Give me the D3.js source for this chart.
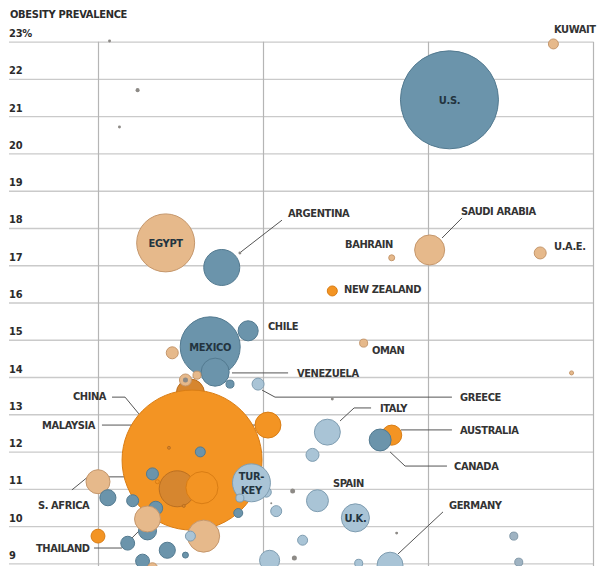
<!DOCTYPE html>
<html><head><meta charset="utf-8">
<script src="https://cdn.jsdelivr.net/npm/d3@7"></script>
<style>
body{margin:0;background:#fff}
svg{display:block}
text{font-family:"Liberation Sans Narrow","DejaVu Sans Condensed","Roboto Condensed",sans-serif}
</style>
</head><body>
<svg id="chart" width="600" height="566"></svg>
<script>
// ---- data (drawing order) ----
const names   = ["", "China", "U.S.", "Egypt", "Mexico", "", "Turkey", "Argentina", "Dark", "Thailand", "", "Saudi Arabia", "Venezuela", "U.K.", "Italy", "Malaysia", "Germany",
  "", "", "", "S. Africa", "Australia", "Canada", "Spain", "Chile", "", "", "", "", "", "", "",
  "", "", "", "Greece", "", "", "U.A.E.", "", "", "", "", "Kuwait", "New Zealand",
  "", "", "Oman", "", "", "", "", "", "Bahrain", "", "", "", "", "", "", "", "", "", "", "", "", "", "", ""];
const xVals   = [15.6, 15.7, 31.3, 14.1, 16.8, 20.2, 19.3, 17.5, 14.8, 16.3, 16.4, 30.1, 17.1, 25.6, 23.9, 20.3, 27.7,
  13.0, 13.5, 13.0, 10.0, 27.8, 27.1, 23.3, 19.1, 20.4, 10.6, 14.2, 10.0, 11.8, 12.7, 23.0,
  12.1, 13.3, 14.5, 19.7, 15.3, 15.3, 36.8, 20.8, 16.2, 22.4, 15.6, 37.6, 24.2,
  18.0, 16.0, 26.1, 18.6, 18.5, 25.8, 35.2, 35.5, 27.8, 15.3, 21.8, 21.9, 13.6, 12.4, 38.7, 10.7, 11.3, 18.6, 24.2, 14.3, 15.2, 20.5, 28.1, 13.3];
const yVals   = [13.57, 11.77, 21.44, 17.60, 14.81, 10.91, 11.16, 16.94, 11.00, 11.03, 9.73, 17.41, 14.13, 10.22, 12.52, 12.71, 8.95,
  9.87, 10.48, 10.19, 11.19, 12.44, 12.31, 10.68, 15.24, 9.08, 10.76, 9.35, 9.73, 9.54, 9.06, 11.91,
  10.68, 11.40, 14.65, 13.81, 13.92, 13.92, 17.33, 10.40, 11.99, 9.62, 9.73, 22.94, 16.31,
  13.81, 14.05, 14.91, 10.75, 10.35, 9.00, 9.73, 9.03, 17.20, 9.22, 10.94, 9.14, 11.19, 21.70, 14.11, 23.02, 20.71, 17.33, 13.41, 12.10, 10.54, 10.61, 9.81, 8.88];
const sizes   = [8.2, 204, 100, 35.0, 37.5, 1.04, 15.0, 13.5, 13.5, 10.7, 10.7, 9.4, 8.2, 8.2, 7.0, 7.0, 7.0,
  3.4, 2.0, 7.0, 6.0, 4.2, 5.0, 5.0, 4.2, 4.2, 2.7, 2.7, 2.0, 2.0, 2.0, 1.76,
  1.5, 1.5, 1.5, 1.5, 1.5, 0.26, 1.5, 1.26, 1.04, 1.04, 1.04, 1.04, 1.04,
  0.67, 0.67, 0.67, 0.67, 0.84, 0.67, 0.67, 0.67, 0.37, 0.37, 0.26, 0.26, 0.17, 0.17, 0.17, 0.09, 0.09, 0.09, 0.09, 0.09, 0.09, 0.04, 0.09, 1.04];
const regions = ["asia2", "asia", "americas", "mideast", "americas", "europe", "europe", "americas", "asia2", "asia", "mideast", "mideast", "americas", "europe", "europe", "asia", "europe",
  "americas", "americas", "mideast", "mideast", "asia", "americas", "europe", "americas", "europe", "americas", "americas", "asia", "americas", "americas", "europe",
  "americas", "americas", "mideast", "europe", "mideast", "small", "mideast", "europe", "americas", "europe", "europe", "mideast", "asia",
  "americas", "mideast", "mideast", "europe", "americas", "europe", "grayblue", "grayblue", "mideast", "americas", "small", "small", "asia", "small", "mideast", "small", "small", "small", "small", "asia2", "asia2", "small", "small", "mideast"];

const regionNames = ["americas", "europe", "mideast", "asia", "asia2", "grayblue", "small"];
const regionFill   = ["#6b94ab", "#a9c4d6", "#e6b98b", "#f39423", "#d6862f", "#9fb3c2", "#8d8a86"];
const regionStroke = ["#537a90", "#7f9db1", "#c5976c", "#d97d14", "#bb6f20", "#8198a8", "none"];

const yTicks = [9, 10, 11, 12, 13, 14, 15, 16, 17, 18, 19, 20, 21, 22, 23];
const xGrid = [10, 20, 30, 40];

const insideNames = ["U.S.", "Egypt", "Mexico", "Turkey", "U.K."];
const insideText  = [["U.S."], ["EGYPT"], ["MEXICO"], ["TUR-", "KEY"], ["U.K."]];

const labelTexts = ["KUWAIT", "ARGENTINA", "BAHRAIN", "SAUDI ARABIA", "U.A.E.", "NEW ZEALAND", "CHILE", "OMAN", "VENEZUELA", "GREECE",
  "CHINA", "MALAYSIA", "ITALY", "AUSTRALIA", "CANADA", "SPAIN", "S. AFRICA", "GERMANY", "THAILAND"];
const labelX = [37.64, 21.52, 24.97, 32.0, 37.64, 24.91, 20.30, 26.6, 22.06, 31.94, 8.48, 6.61, 27.09, 31.94, 31.58, 24.24, 6.36, 31.27, 6.24];
const labelY = [23.34, 18.40, 17.57, 18.45, 17.51, 16.36, 15.37, 14.73, 14.11, 13.46, 13.49, 12.71, 13.17, 12.58, 11.61, 11.16, 10.57, 10.57, 9.41];

const leaderLines = [
  [[18.67, 17.36], [21.15, 18.21]],                       // Argentina
  [[30.85, 17.73], [32.06, 18.27]],                       // Saudi Arabia
  [[18.12, 14.11], [21.52, 14.11]],                       // Venezuela
  [[19.94, 13.65], [20.73, 13.46], [31.45, 13.46]],       // Greece
  [[10.85, 13.46], [11.64, 13.46], [12.48, 13.01]],       // China
  [[10.24, 12.71], [19.64, 12.71]],                       // Malaysia
  [[24.67, 12.82], [25.52, 13.17], [26.55, 13.17]],       // Italy
  [[28.36, 12.58], [31.45, 12.58]],                       // Australia
  [[27.70, 11.99], [28.61, 11.61], [31.15, 11.61]],       // Canada
  [[8.42, 10.97], [9.39, 11.32], [13.94, 11.32]],         // S. Africa
  [[28.18, 9.25], [30.91, 10.38]],                        // Germany
  [[9.76, 9.41], [11.45, 9.41], [15.33, 11.13]]           // Thailand
];

// ---- scales ----
const svg = d3.select("#chart");
const x = d3.scaleLinear().domain([4.606, 40]).range([9, 593]);
const y = d3.scaleLinear().domain([9, 23]).range([563.3, 41.7]);
const r = d3.scaleSqrt().domain([0, 100]).range([0, 49]);
const fill = d3.scaleOrdinal().domain(regionNames).range(regionFill);
const stroke = d3.scaleOrdinal().domain(regionNames).range(regionStroke);

// title
svg.append("text").attr("x", 10).attr("y", 17.5)
  .style("font-size", "11px").style("font-weight", "bold").style("letter-spacing", "-0.3px").attr("fill", "#2b2b2b")
  .text("OBESITY PREVALENCE");

// horizontal grid + tick labels
const yAxis = svg.append("g").attr("transform", "translate(9,0)")
  .call(d3.axisRight(y).tickValues(yTicks).tickSize(584).tickFormat(d => d === 23 ? "23%" : d));
yAxis.select(".domain").remove();
yAxis.selectAll(".tick line").attr("stroke", "#cacaca").attr("stroke-width", 1.3);
yAxis.selectAll(".tick text").attr("x", 0).attr("dy", -5).attr("text-anchor", "start")
  .style("font-size", "11px").style("font-weight", "bold").style("letter-spacing", "-0.2px")
  .style("font-family", "\"DejaVu Sans Condensed\",sans-serif").attr("fill", "#2b2b2b");

// vertical grid
const xAxis = svg.append("g").attr("transform", `translate(0,${y(23)})`)
  .call(d3.axisBottom(x).tickValues(xGrid).tickSize(566 - y(23)).tickFormat(""));
xAxis.select(".domain").remove();
xAxis.selectAll(".tick line").attr("stroke", "#b5b5b5").attr("stroke-width", 1.2);

// leader lines
const line = d3.line().x(d => x(d[0])).y(d => y(d[1]));
svg.append("g").selectAll("path").data(leaderLines).join("path")
  .attr("d", line).attr("fill", "none").attr("stroke", "#555").attr("stroke-width", 1);

// bubbles
const data = names.map((n, i) => ({name: n, x: xVals[i], y: yVals[i], s: sizes[i], reg: regions[i]}));
svg.append("g").selectAll("circle").data(data).join("circle")
  .attr("cx", d => x(d.x)).attr("cy", d => y(d.y)).attr("r", d => r(d.s))
  .attr("fill", d => fill(d.reg))
  .attr("stroke", d => stroke(d.reg)).attr("stroke-width", 1);

// inside labels
insideNames.forEach((n, k) => {
  const d = data.find(e => e.name === n);
  const lines = insideText[k];
  const t = svg.append("text").attr("text-anchor", "middle")
    .style("font-size", "11px").style("font-weight", "bold").style("letter-spacing", "-0.3px").attr("fill", "#233440");
  lines.forEach((s, j) => {
    t.append("tspan").attr("x", x(d.x))
      .attr("y", y(d.y) + 4 + (j - (lines.length - 1) / 2) * 14).text(s);
  });
});

// outside labels
svg.append("g").selectAll("text").data(labelTexts).join("text")
  .attr("x", (d, i) => x(labelX[i])).attr("y", (d, i) => y(labelY[i]) + 4)
  .style("font-size", "11px").style("font-weight", "bold").style("letter-spacing", "-0.4px").attr("fill", "#333")
  .text(d => d);
</script>
</body></html>
